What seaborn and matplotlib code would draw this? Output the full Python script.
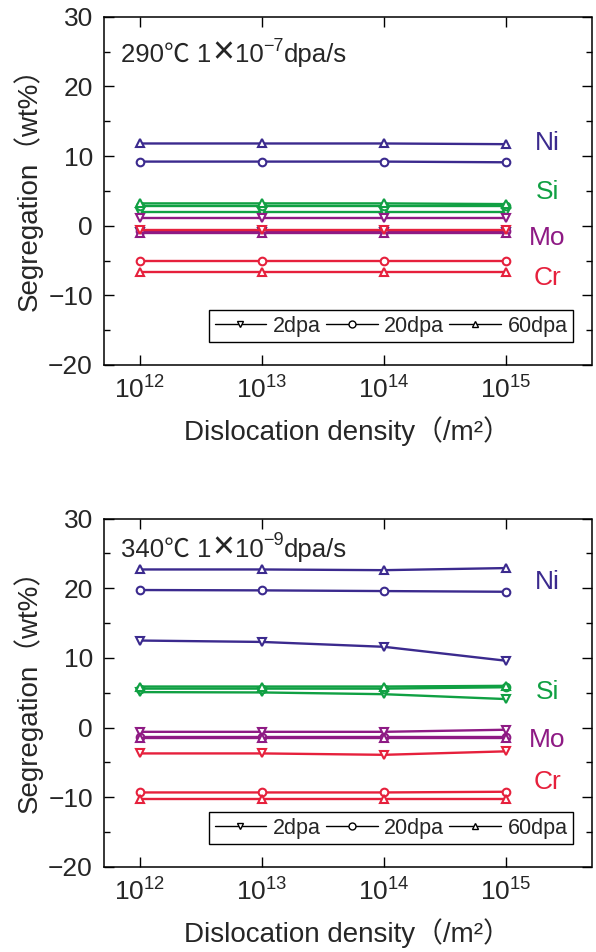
import numpy as np
import pandas as pd
import seaborn as sns
import matplotlib
matplotlib.use("Agg")
import matplotlib.pyplot as plt
from matplotlib.lines import Line2D
from matplotlib.ticker import FixedLocator, MultipleLocator, LogFormatterSciNotation, NullLocator

sns.set_theme(style="ticks")
plt.rcParams["font.family"] = ["Liberation Sans", "Noto Sans CJK JP", "DejaVu Sans"]
plt.rcParams["mathtext.fontset"] = "custom"
plt.rcParams["mathtext.rm"] = "Liberation Sans"
plt.rcParams["mathtext.it"] = "Liberation Sans:italic"
plt.rcParams["mathtext.bf"] = "Liberation Sans:bold"
plt.rcParams["axes.unicode_minus"] = True

# Dislocation density (/m^2)
density = [1e12, 1e13, 1e14, 1e15]
elements = ["Ni", "Si", "Mo", "Cr"]
doses = ["2dpa", "20dpa", "60dpa"]

# 290 C, 1x10^-7 dpa/s  (segregation, wt%)
ni_290_2dpa = [-0.9, -0.9, -0.9, -0.9]
ni_290_20dpa = [9.2, 9.2, 9.2, 9.1]
ni_290_60dpa = [11.8, 11.8, 11.8, 11.7]
si_290_2dpa = [2.0, 2.0, 2.0, 2.0]
si_290_20dpa = [2.8, 2.8, 2.8, 2.8]
si_290_60dpa = [3.2, 3.2, 3.2, 3.1]
mo_290_2dpa = [1.1, 1.1, 1.1, 1.1]
mo_290_20dpa = [-0.8, -0.8, -0.8, -0.8]
mo_290_60dpa = [-1.0, -1.0, -1.0, -1.0]
cr_290_2dpa = [-0.6, -0.6, -0.6, -0.6]
cr_290_20dpa = [-5.1, -5.1, -5.1, -5.1]
cr_290_60dpa = [-6.7, -6.7, -6.7, -6.7]

# 340 C, 1x10^-9 dpa/s  (segregation, wt%)
ni_340_2dpa = [12.5, 12.3, 11.6, 9.6]
ni_340_20dpa = [19.75, 19.7, 19.6, 19.5]
ni_340_60dpa = [22.7, 22.7, 22.6, 22.9]
si_340_2dpa = [5.1, 5.05, 4.8, 4.1]
si_340_20dpa = [5.6, 5.6, 5.6, 5.8]
si_340_60dpa = [5.9, 5.9, 5.9, 6.0]
mo_340_2dpa = [-0.6, -0.6, -0.6, -0.3]
mo_340_20dpa = [-1.4, -1.4, -1.4, -1.4]
mo_340_60dpa = [-1.5, -1.5, -1.5, -1.5]
cr_340_2dpa = [-3.7, -3.7, -3.9, -3.4]
cr_340_20dpa = [-9.3, -9.3, -9.3, -9.2]
cr_340_60dpa = [-10.3, -10.3, -10.3, -10.3]

palette = {"Ni": "#3b2a8e", "Si": "#10a043", "Mo": "#8e1a84", "Cr": "#e6203c"}
markers = {"2dpa": "v", "20dpa": "o", "60dpa": "^"}


def build_frame(series):
    rows = []
    for (el, dose), vals in series.items():
        for x, v in zip(density, vals):
            rows.append({"density": x, "value": v, "element": el, "dose": dose})
    return pd.DataFrame(rows)


df_290 = build_frame({
    ("Ni", "2dpa"): ni_290_2dpa, ("Ni", "20dpa"): ni_290_20dpa, ("Ni", "60dpa"): ni_290_60dpa,
    ("Si", "2dpa"): si_290_2dpa, ("Si", "20dpa"): si_290_20dpa, ("Si", "60dpa"): si_290_60dpa,
    ("Mo", "2dpa"): mo_290_2dpa, ("Mo", "20dpa"): mo_290_20dpa, ("Mo", "60dpa"): mo_290_60dpa,
    ("Cr", "2dpa"): cr_290_2dpa, ("Cr", "20dpa"): cr_290_20dpa, ("Cr", "60dpa"): cr_290_60dpa,
})
df_340 = build_frame({
    ("Ni", "2dpa"): ni_340_2dpa, ("Ni", "20dpa"): ni_340_20dpa, ("Ni", "60dpa"): ni_340_60dpa,
    ("Si", "2dpa"): si_340_2dpa, ("Si", "20dpa"): si_340_20dpa, ("Si", "60dpa"): si_340_60dpa,
    ("Mo", "2dpa"): mo_340_2dpa, ("Mo", "20dpa"): mo_340_20dpa, ("Mo", "60dpa"): mo_340_60dpa,
    ("Cr", "2dpa"): cr_340_2dpa, ("Cr", "20dpa"): cr_340_20dpa, ("Cr", "60dpa"): cr_340_60dpa,
})

fig = plt.figure(figsize=(5.96, 9.52), dpi=100)
W, H = 596.0, 952.0
ax_top = fig.add_axes([104 / W, 1 - 365 / H, 487.5 / W, 348.3 / H])
ax_bot = fig.add_axes([104 / W, 1 - 867 / H, 487.5 / W, 348.4 / H])

TICK_FS = 19
LABEL_FS = 20
HEAD_FS = 18.5


def draw_header(ax, temp, exponent, y0):
    # pieces laid out left to right on a common baseline (axes fraction y0)
    t1 = ax.text(0.035, y0, f"{temp}\u2103 1", transform=ax.transAxes,
                 fontsize=HEAD_FS, va="baseline", ha="left")
    tx = ax.annotate("\u00d7", xy=(1.0, y0), xycoords=(t1, ax.transAxes),
                     xytext=(0.5, -1.5), textcoords="offset points",
                     fontsize=27, va="baseline", ha="left")
    t10 = ax.annotate("10", xy=(1.0, y0), xycoords=(tx, ax.transAxes),
                      xytext=(0.5, 0), textcoords="offset points",
                      fontsize=HEAD_FS, va="baseline", ha="left")
    tsup = ax.annotate(f"\u2212{exponent}", xy=(1.0, y0), xycoords=(t10, ax.transAxes),
                       xytext=(0, 8), textcoords="offset points",
                       fontsize=13, va="baseline", ha="left")
    ax.annotate("dpa/s", xy=(1.0, y0), xycoords=(tsup, ax.transAxes),
                fontsize=HEAD_FS, va="baseline", ha="left")


def draw_panel(ax, df, temp, exponent, label_y, head_y):
    ax.set_xscale("log")
    sns.lineplot(data=df, x="density", y="value", hue="element", style="dose",
                 hue_order=elements, style_order=doses, palette=palette,
                 markers=markers, dashes=False, legend=False, ax=ax,
                 linewidth=1.7, markersize=5.5)
    for ln in ax.lines:
        c = ln.get_color()
        ln.set_markerfacecolor("white")
        ln.set_markeredgecolor(c)
        ln.set_markeredgewidth(1.5)

    ax.set_xlim(10 ** 11.705, 10 ** 15.7)
    ax.set_ylim(-20, 30)
    ax.xaxis.set_major_locator(FixedLocator(density))
    ax.xaxis.set_minor_locator(NullLocator())
    ax.xaxis.set_major_formatter(LogFormatterSciNotation())
    ax.yaxis.set_major_locator(MultipleLocator(10))
    ax.yaxis.set_minor_locator(MultipleLocator(5))
    ax.tick_params(which="both", direction="in", top=True, right=True,
                   color="black", width=1.0)
    ax.tick_params(which="major", length=7, labelsize=TICK_FS, pad=8)
    ax.tick_params(which="minor", length=4)
    for sp in ax.spines.values():
        sp.set_color("black")
        sp.set_linewidth(1.1)
    ax.grid(False)

    ax.set_xlabel("Dislocation density\uff08/m\u00b2\uff09", fontsize=LABEL_FS, labelpad=9)
    ax.set_ylabel("Segregation\uff08wt%\uff09", fontsize=LABEL_FS)
    ax.yaxis.set_label_coords(-0.125, 0.525)

    # element names at the right-hand side
    for el, y in zip(elements, label_y):
        ax.text(10 ** 15.34, y, el, color=palette[el], fontsize=TICK_FS,
                ha="center", va="center")

    draw_header(ax, temp, exponent, head_y)

    handles = [Line2D([], [], color="black", lw=1.0, marker=markers[d], markersize=5,
                      markerfacecolor="white", markeredgecolor="black",
                      markeredgewidth=1.0, label=d) for d in doses]
    leg = ax.legend(handles=handles, ncol=3, loc="lower right",
                    bbox_to_anchor=(0.962, 0.066), borderaxespad=0,
                    fontsize=15.5, frameon=True, fancybox=False,
                    handlelength=2.4, handletextpad=0.3, columnspacing=0.25,
                    borderpad=0.25)
    leg.get_frame().set_edgecolor("black")
    leg.get_frame().set_linewidth(1.0)
    leg.get_frame().set_alpha(1.0)


draw_panel(ax_top, df_290, 290, 7, [11.9, 4.9, -1.8, -7.5], 0.871)
draw_panel(ax_bot, df_340, 340, 9, [20.9, 5.1, -1.8, -7.8], 0.891)

fig.savefig("out.png", dpi=100)
